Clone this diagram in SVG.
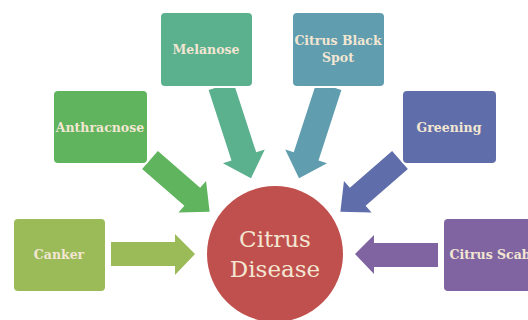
<svg xmlns="http://www.w3.org/2000/svg" width="528" height="320" viewBox="0 0 528 320">
<defs>
<style>
.box{stroke:#ffffff;stroke-width:2}
.lbl{font-family:"DejaVu Serif",serif;font-weight:bold;font-size:12.5px;fill:#F3E6D2;text-anchor:middle}
.big{font-family:"DejaVu Serif",serif;font-size:23px;fill:#F3E6D2;text-anchor:middle}
</style>
</defs>
<rect width="528" height="320" fill="#ffffff"/>
<g id="connectors">
<path fill="#9BBB59" d="M111,242 H175 V234 L195,254 L175,275 V266 H111 Z"/>
<path fill="#8064A2" d="M438,243 H374 V235 L355,254 L374,274 V267 H438 Z"/>
<path fill="#5FB45D" transform="translate(150,160) rotate(41)" d="M0,-12 H56 V-21 L79,0 L56,21 V12 H0 Z"/>
<path fill="#5F6EAA" transform="translate(400,160) rotate(139)" d="M0,-12 H56 V-21 L79,0 L56,21 V12 H0 Z"/>
<path fill="#5BB08D" transform="translate(221,86) rotate(72)" d="M0,-13 H74 V-22 L97,0 L74,22 V13 H0 Z"/>
<path fill="#5F9DAF" transform="translate(329,86) rotate(108)" d="M0,-13 H74 V-22 L97,0 L74,22 V13 H0 Z"/>
</g>
<g id="center">
<circle cx="275" cy="254" r="68" fill="#C0504D"/>
<text class="big" x="275" y="247">Citrus</text>
<text class="big" x="275" y="277">Disease</text>
</g>
<g id="melanose">
<rect class="box" x="160" y="12" width="93" height="75" rx="5" fill="#5BB08D"/>
<text class="lbl" x="206" y="54">Melanose</text>
</g>
<g id="blackspot">
<rect class="box" x="292" y="12" width="93" height="75" rx="5" fill="#5F9DAF"/>
<text class="lbl" x="338" y="45" font-size="11.5">Citrus Black</text>
<text class="lbl" x="338" y="62">Spot</text>
</g>
<g id="anthracnose">
<rect class="box" x="53" y="90" width="95" height="74" rx="5" fill="#5FB45D"/>
<text class="lbl" x="100" y="132" font-size="12">Anthracnose</text>
</g>
<g id="greening">
<rect class="box" x="402" y="90" width="95" height="74" rx="5" fill="#5F6EAA"/>
<text class="lbl" x="449" y="132">Greening</text>
</g>
<g id="canker">
<rect class="box" x="13" y="218" width="93" height="74" rx="5" fill="#9BBB59"/>
<text class="lbl" x="59" y="259">Canker</text>
</g>
<g id="scab">
<rect class="box" x="443" y="218" width="93" height="74" rx="5" fill="#8064A2"/>
<text class="lbl" x="490" y="259" font-size="12">Citrus Scab</text>
</g>
</svg>
